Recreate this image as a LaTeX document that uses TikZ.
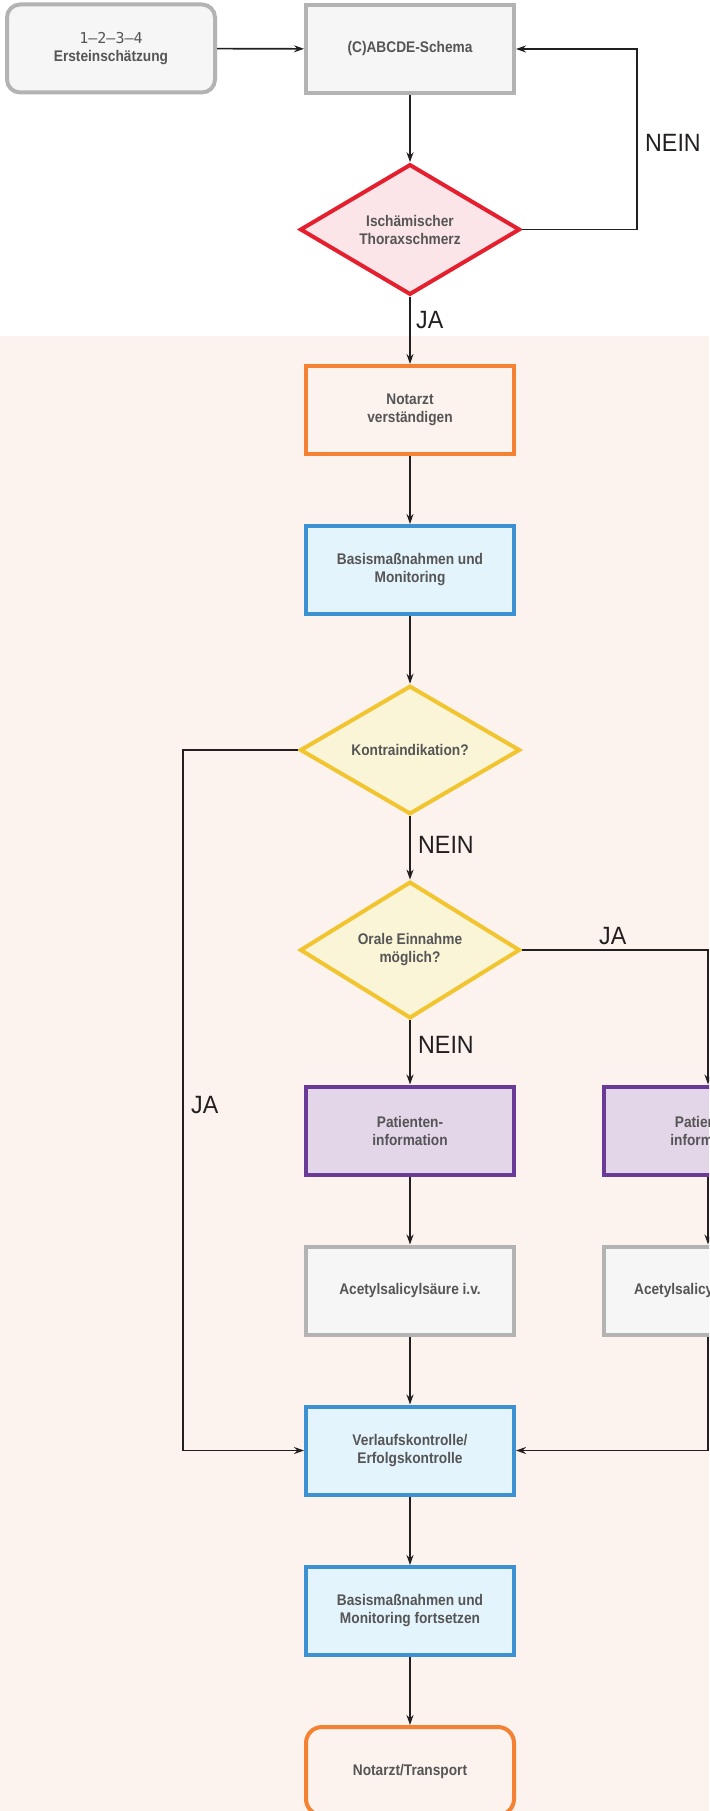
\documentclass[tikz,border=0pt]{standalone}
\usepackage{fontspec}
\setmainfont{Liberation Sans}
\newfontfamily\boxfont{Liberation Sans}[FakeStretch=0.89]
\newfontfamily\numfont{DejaVu Sans Mono}
\newfontfamily\labfont{Liberation Sans}[FakeStretch=0.93]
\usetikzlibrary{shapes.geometric,arrows.meta}
\definecolor{bgpeach}{HTML}{FCF3EE}
\definecolor{txtgray}{HTML}{555555}
\definecolor{linedark}{HTML}{231F20}
\definecolor{grayline}{HTML}{B3B3B3}
\definecolor{grayfill}{HTML}{F5F6F5}
\definecolor{redline}{HTML}{E4202F}
\definecolor{redfill}{HTML}{FBE5E8}
\definecolor{orangeline}{HTML}{F58233}
\definecolor{blueline}{HTML}{3B91D1}
\definecolor{bluefill}{HTML}{E4F4FC}
\definecolor{yellowline}{HTML}{F2C530}
\definecolor{yellowfill}{HTML}{FBF5D8}
\definecolor{purpleline}{HTML}{6A3A99}
\definecolor{purplefill}{HTML}{E3D6E9}
\tikzset{
  boxbase/.style={rectangle, minimum width=208pt, minimum height=88pt, inner sep=0pt,
    line width=4pt, align=center, text=txtgray,
    font=\boxfont\bfseries\fontsize{15.4}{18}\selectfont},
  graybox/.style={boxbase, draw=grayline, fill=grayfill},
  orangebox/.style={boxbase, draw=orangeline, fill=bgpeach},
  bluebox/.style={boxbase, draw=blueline, fill=bluefill},
  purplebox/.style={boxbase, draw=purpleline, fill=purplefill},
  diabase/.style={diamond, minimum width=220pt, minimum height=125pt, inner sep=0pt,
    line width=4pt, align=center, text=txtgray,
    font=\boxfont\bfseries\fontsize{15.4}{18}\selectfont},
  reddia/.style={diabase, draw=redline, fill=redfill},
  yellowdia/.style={diabase, draw=yellowline, fill=yellowfill},
  arr/.style={draw=linedark, line width=1.6pt, -{Stealth[length=10pt,width=7pt]}},
  lab/.style={inner sep=0pt, anchor=west, text=linedark, font=\labfont\fontsize{25}{25}\selectfont}
}
\begin{document}
\begin{tikzpicture}[x=1pt,y=-1pt]
\useasboundingbox (0,0) rectangle (709,1811);
\clip (0,0) rectangle (709,1811);
\fill[bgpeach] (0,336) rectangle (709,1811);

% nodes
\node[graybox, rounded corners=13pt] (start) at (111,48.5) {{\numfont\mdseries\fontsize{15}{18}\selectfont 1–2–3–4}\\Ersteinschätzung};
\node[graybox] (abc) at (410,49) {(C)ABCDE-Schema};
\node[reddia] (isch) at (410,229.5) {Ischämischer\\Thoraxschmerz};
\node[orangebox] (na) at (410,410) {Notarzt\\verständigen};
\node[bluebox] (basis) at (410,570) {Basismaßnahmen und\\Monitoring};
\node[yellowdia] (kontra) at (410,750) {Kontraindikation?};
\node[yellowdia] (oral) at (410,950) {Orale Einnahme\\möglich?};
\node[purplebox] (pat) at (410,1130.5) {Patienten-\\information};
\node[graybox] (asa) at (410,1290.5) {Acetylsalicylsäure i.v.};
\node[purplebox] (rpat) at (708,1130.5) {Patienten-\\information};
\node[graybox] (rasa) at (708,1290.5) {Acetylsalicylsäure p.o.};
\node[bluebox] (verl) at (410,1450.5) {Verlaufskontrolle/\\Erfolgskontrolle};
\node[bluebox] (fort) at (410,1611) {Basismaßnahmen und\\Monitoring fortsetzen};
\node[orangebox, rounded corners=16pt] (trans) at (410,1771) {Notarzt/Transport};

% bend points
\coordinate (nr) at (637,229.5);
\coordinate (jl) at (183,750);

% connectors
\draw[arr] (start) -- (abc);
\draw[arr] (abc) -- (isch);
\draw[arr] (isch.east) -- (nr) |- (abc.east);
\draw[arr] (isch) -- (na);
\draw[arr] (na) -- (basis);
\draw[arr] (basis) -- (kontra);
\draw[arr] (kontra) -- (oral);
\draw[arr] (kontra.west) -- (jl) |- (verl.west);
\draw[arr] (oral.east) -| (rpat.north);
\draw[arr] (oral) -- (pat);
\draw[arr] (pat) -- (asa);
\draw[arr] (asa) -- (verl);
\draw[arr] (rpat) -- (rasa);
\draw[arr] (rasa.south) |- (verl.east);
\draw[arr] (verl) -- (fort);
\draw[arr] (fort) -- (trans);

% labels
\node[lab] (l1) at (645,143) {NEIN};
\node[lab] (l2) at (416,320) {JA};
\node[lab] (l3) at (418,845) {NEIN};
\node[lab] (l4) at (599,936) {JA};
\node[lab] (l5) at (418,1045) {NEIN};
\node[lab] (l6) at (191,1105) {JA};
\end{tikzpicture}
\end{document}
